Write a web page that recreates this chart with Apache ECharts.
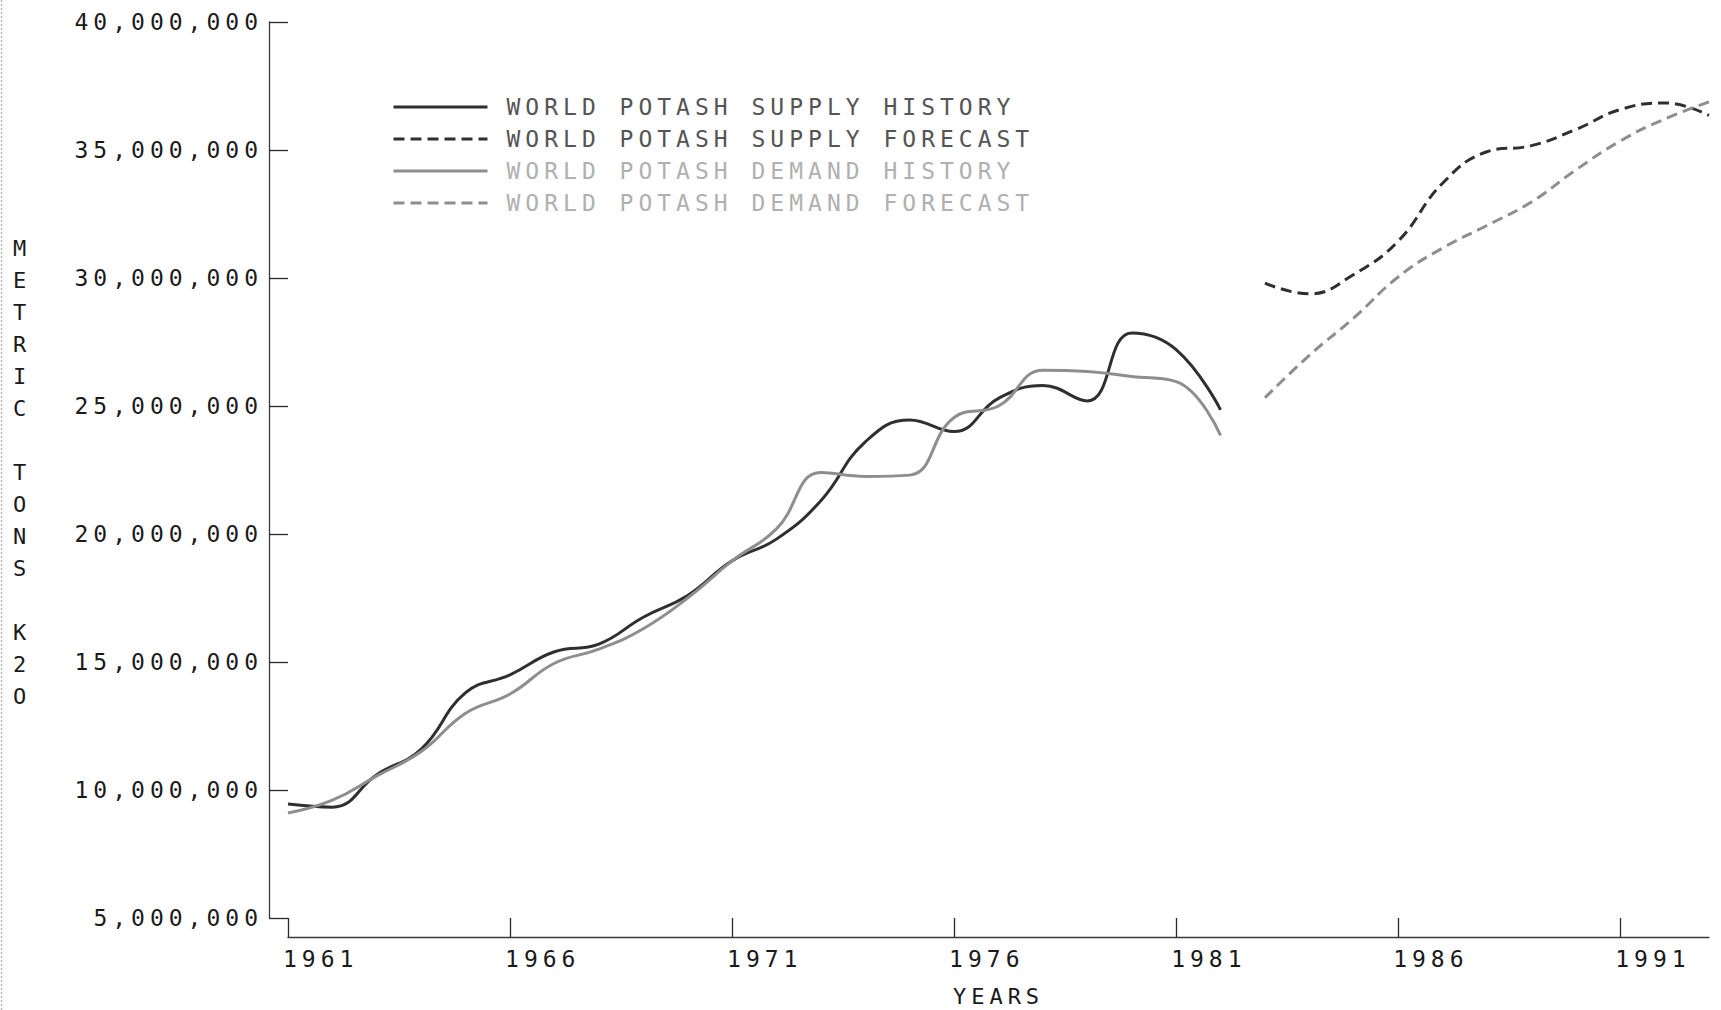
<!DOCTYPE html>
<html>
<head>
<meta charset="utf-8">
<title>World Potash Supply and Demand</title>
<script src="https://cdn.jsdelivr.net/npm/echarts@6/dist/echarts.min.js"></script>
<style>
  html, body { margin: 0; padding: 0; background: #ffffff; }
  #chart { width: 1721px; height: 1010px; }
  /* wide plotter-style lettering */
  #chart text { letter-spacing: 5px; }
</style>
</head>
<body>
<div id="chart"></div>
<script>
// Annual history, metric tons K2O (millions)
const historyYears = [1961, 1962, 1963, 1964, 1965, 1966, 1967, 1968, 1969, 1970, 1971,
                      1972, 1973, 1974, 1975, 1976, 1977, 1978, 1979, 1980, 1981, 1982];
const supplyHistory = [9.45, 9.33, 10.6, 11.6, 13.8, 14.5, 15.4, 15.7, 16.75, 17.6, 18.95,
                       19.8, 21.3, 23.6, 24.45, 24.0, 25.3, 25.8, 25.2, 27.85, 27.2, 24.85];
const demandHistory = [9.1, 9.6, 10.55, 11.5, 13.0, 13.75, 14.95, 15.5, 16.3, 17.5, 18.95,
                       20.2, 22.4, 22.25, 22.3, 24.55, 25.0, 26.4, 26.35, 26.15, 25.95, 23.85];

// Forecast, metric tons K2O (millions)
const forecastYears = [1983, 1984, 1985, 1986, 1987, 1988, 1989, 1990, 1991, 1992, 1993];
const supplyForecast = [29.8, 29.38, 30.14, 31.44, 33.7, 34.93, 35.17, 35.8, 36.58, 36.84, 36.35];
const demandForecast = [25.32, 26.98, 28.44, 30.04, 31.17, 32.05, 32.97, 34.22, 35.35, 36.21, 36.88];

// Axis ticks and titles
const yearTicks = [1961, 1966, 1971, 1976, 1981, 1986, 1991];
const yTitle = 'METRIC TONS K2O';
const xTitle = 'YEARS';
const seriesNames = [
  'WORLD POTASH SUPPLY HISTORY',
  'WORLD POTASH SUPPLY FORECAST',
  'WORLD POTASH DEMAND HISTORY',
  'WORLD POTASH DEMAND FORECAST'
];

const MILLION = 1000000;
const pairs = (years, vals) => years.map((y, i) => [y, vals[i] * MILLION]);

const FONT = "'DejaVu Sans Mono', monospace";
const DARK = '#2f2f2f';
const LIGHT = '#8e8e8e';

const chart = echarts.init(document.getElementById('chart'), null, { renderer: 'svg' });

chart.setOption({
  animation: false,
  backgroundColor: '#ffffff',
  textStyle: { fontFamily: FONT },
  grid: { left: 288, right: 12, top: 22, bottom: 92, containLabel: false, outerBoundsMode: 'none' },
  legend: {
    orient: 'vertical',
    left: 387,
    top: 90,
    itemWidth: 94,
    itemHeight: 14,
    itemGap: 8,
    selectedMode: false,
    itemStyle: { opacity: 0 },
    lineStyle: { width: 3 },
    textStyle: { fontFamily: FONT, fontSize: 23, lineHeight: 24, padding: [0, 0, 0, 14] },
    data: [
      { name: seriesNames[0], textStyle: { color: '#555555' } },
      { name: seriesNames[1], textStyle: { color: '#555555' } },
      { name: seriesNames[2], textStyle: { color: '#b0b0b0' } },
      { name: seriesNames[3], textStyle: { color: '#b0b0b0' } }
    ]
  },
  xAxis: {
    type: 'value',
    min: 1961,
    max: 1993,
    interval: 5,
    offset: 19,
    name: xTitle,
    nameLocation: 'middle',
    nameGap: 48,
    nameTextStyle: { fontFamily: FONT, fontSize: 22, color: '#1a1a1a' },
    axisLine: { show: true, lineStyle: { color: '#3a3a3a', width: 1.3 } },
    axisTick: { show: true, inside: true, length: 19, customValues: yearTicks,
                lineStyle: { color: '#2a2a2a', width: 1.3 } },
    axisLabel: { show: true, customValues: yearTicks, align: 'left', margin: 10,
                 padding: [0, 0, 0, -5],
                 fontFamily: FONT, fontSize: 23, color: '#1a1a1a',
                 formatter: v => String(v) },
    splitLine: { show: false }
  },
  yAxis: {
    type: 'value',
    min: 5 * MILLION,
    max: 40 * MILLION,
    interval: 5 * MILLION,
    offset: 19,
    axisLine: { show: true, lineStyle: { color: '#3a3a3a', width: 1.3 } },
    axisTick: { show: true, inside: true, length: 19, lineStyle: { color: '#2a2a2a', width: 1.3 } },
    axisLabel: { margin: 6, fontFamily: FONT, fontSize: 23, color: '#1a1a1a',
                 formatter: v => v.toLocaleString('en-US') },
    splitLine: { show: false }
  },
  graphic: [
    // page margin rule
    { type: 'line', shape: { x1: 1.5, y1: 0, x2: 1.5, y2: 1010 },
      style: { stroke: '#b8b8b8', lineWidth: 1.5, lineDash: [2, 2] }, silent: true },
    // value-axis title, one letter per line
    { type: 'text', x: 22, y: 232, silent: true,
      style: { text: yTitle.split('').join('\n'), font: "22px 'DejaVu Sans Mono', monospace",
               lineHeight: 32, textAlign: 'center', textVerticalAlign: 'top', fill: '#1a1a1a' } }
  ],
  series: [
    { name: seriesNames[0], type: 'line', data: pairs(historyYears, supplyHistory),
      smooth: 0.45, symbol: 'none', lineStyle: { color: DARK, width: 3 }, itemStyle: { color: DARK } },
    { name: seriesNames[1], type: 'line', data: pairs(forecastYears, supplyForecast),
      smooth: 0.45, symbol: 'none', lineStyle: { color: DARK, width: 3, type: [11, 6] }, itemStyle: { color: DARK } },
    { name: seriesNames[2], type: 'line', data: pairs(historyYears, demandHistory),
      smooth: 0.45, symbol: 'none', lineStyle: { color: LIGHT, width: 3 }, itemStyle: { color: LIGHT } },
    { name: seriesNames[3], type: 'line', data: pairs(forecastYears, demandForecast),
      smooth: 0.45, symbol: 'none', lineStyle: { color: LIGHT, width: 3, type: [11, 6] }, itemStyle: { color: LIGHT } }
  ]
});
</script>
</body>
</html>
